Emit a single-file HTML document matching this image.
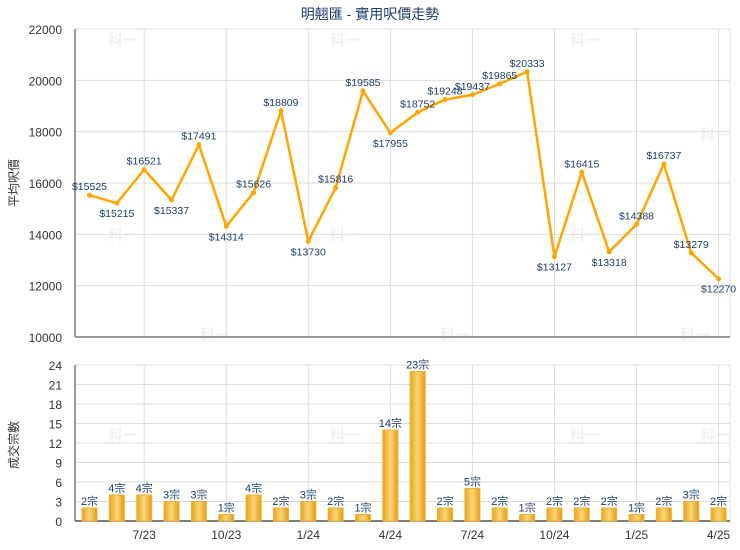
<!DOCTYPE html>
<html><head><meta charset="utf-8">
<style>
body{margin:0;background:#fff;}
svg{display:block;font-family:"Liberation Sans","Noto Sans CJK TC",sans-serif;}
</style></head>
<body>
<svg id="chart" width="740" height="550">
<text x="370" y="19" text-anchor="middle" font-size="14" fill="#1c3d6b">明翹匯 - 實用呎價走勢</text>
<text transform="translate(18,183) rotate(-90)" text-anchor="middle" font-size="12" fill="#333">平均呎價</text>
<text transform="translate(18,445) rotate(-90)" text-anchor="middle" font-size="12" fill="#333">成交宗數</text>
<g id="topg"></g><g id="botg"></g>
</svg>
<script>
const months=["5/23","6/23","7/23","8/23","9/23","10/23","11/23","12/23","1/24","2/24","3/24","4/24","5/24","6/24","7/24","8/24","9/24","10/24","11/24","12/24","1/25","2/25","3/25","4/25"];
const prices=[15525,15215,16521,15337,17491,14314,15626,18809,13730,15816,19585,17955,18752,19248,19437,19865,20333,13127,16415,13318,14388,16737,13279,12270];
const counts=[2,4,4,3,3,1,4,2,3,2,1,14,23,2,5,2,1,2,2,2,1,2,3,2];
const priceTicks=[10000,12000,14000,16000,18000,20000,22000];
const countTicks=[0,3,6,9,12,15,18,21,24];
const xTickLabels=["7/23","10/23","1/24","4/24","7/24","10/24","1/25","4/25"];

const NS="http://www.w3.org/2000/svg";
const L=75,R=730,step=27.35,x0=89.5;
const X=i=>x0+i*step;
const Yp=v=>337-(v-10000)/12000*308;
const Yc=v=>521-v/24*156;
function mk(p,t,a){const e=document.createElementNS(NS,t);for(const k in a)e.setAttribute(k,a[k]);p.appendChild(e);return e;}
const topG=document.getElementById('topg'),botG=document.getElementById('botg');
const svgEl=document.getElementById('chart');
const defs=mk(svgEl,'defs',{});
const grad=mk(defs,'linearGradient',{id:'bg',x1:0,x2:1,y1:0,y2:0});
mk(grad,'stop',{offset:'0','stop-color':'#e8a31c'});
mk(grad,'stop',{offset:'0.5','stop-color':'#fbd77a'});
mk(grad,'stop',{offset:'1','stop-color':'#e39a10'});
[[108,45],[330,45],[570,45],[200,340],[440,340],[680,340],[108,240],[330,240],[570,240],[108,440],[330,440],[570,440],[700,140],[700,440]].forEach(p=>{
 const t=mk(svgEl,'text',{x:p[0],y:p[1],'font-size':'15','font-weight':'bold',fill:'#f1f1f1'});t.textContent='科一';
 
 
 svgEl.insertBefore(t,topG);
});
months.forEach((m,i)=>{ if(xTickLabels.includes(m)){
 const l1=mk(topG,'line',{x1:X(i),x2:X(i),y1:29,y2:337,stroke:'#ddd'});
 
 
 const l2=mk(botG,'line',{x1:X(i),x2:X(i),y1:365,y2:521,stroke:'#ddd'});
 
 
 const t=mk(botG,'text',{x:X(i),y:539,'text-anchor':'middle','font-size':'12',fill:'#333'});t.textContent=m;
 
 
}});
mk(topG,'line',{x1:R,x2:R,y1:29,y2:337,stroke:'#ddd'});
mk(botG,'line',{x1:R,x2:R,y1:365,y2:521,stroke:'#ddd'});
priceTicks.forEach(v=>{
 const l=mk(topG,'line',{x1:L,x2:R,y1:Yp(v),y2:Yp(v),stroke:'#ddd'});
 
 
 const t=mk(topG,'text',{x:62,y:Yp(v)+5,'text-anchor':'end','font-size':'12',fill:'#333'});t.textContent=v;
 
 
});
countTicks.forEach(v=>{
 const l=mk(botG,'line',{x1:L,x2:R,y1:Yc(v),y2:Yc(v),stroke:'#ddd'});
 
 
 const t=mk(botG,'text',{x:62,y:Yc(v)+5,'text-anchor':'end','font-size':'12',fill:'#333'});t.textContent=v;
 
 
});
mk(topG,'line',{x1:L,x2:L,y1:29,y2:337,stroke:'#999','stroke-width':2});
mk(topG,'line',{x1:L,x2:R,y1:337,y2:337,stroke:'#999','stroke-width':2});
mk(botG,'line',{x1:L,x2:L,y1:365,y2:521,stroke:'#999','stroke-width':2});
mk(botG,'line',{x1:L,x2:R,y1:521,y2:521,stroke:'#555','stroke-width':1.5});
const line=mk(topG,'polyline',{points:prices.map((v,i)=>X(i)+','+Yp(v)).join(' '),fill:'none',stroke:'#ffa500','stroke-width':2.5});


prices.forEach((v,i)=>{
 const c=mk(topG,'circle',{cx:X(i),cy:Yp(v),r:2.5,fill:'#ffa500'});
 
 
 const pv=i>0?prices[i-1]:Infinity,nv=i<prices.length-1?prices[i+1]:Infinity;
 const below=v<pv&&v<nv;
 const t=mk(topG,'text',{x:X(i),y:Yp(v)+(below?14:-5),'text-anchor':'middle','font-size':'10.5',fill:'#1c3d6b'});t.textContent='$'+v;
 
 
});
counts.forEach((v,i)=>{
 const b=mk(botG,'rect',{x:X(i)-7.5,y:Yc(v),width:15,height:521-Yc(v),fill:'url(#bg)',stroke:'#f0b030','stroke-width':1});
 
 
 const t=mk(botG,'text',{x:X(i),y:Yc(v)-3,'text-anchor':'middle','font-size':'11',fill:'#1c3d6b'});t.textContent=v+'宗';
 
 
});
</script>
</body></html>
